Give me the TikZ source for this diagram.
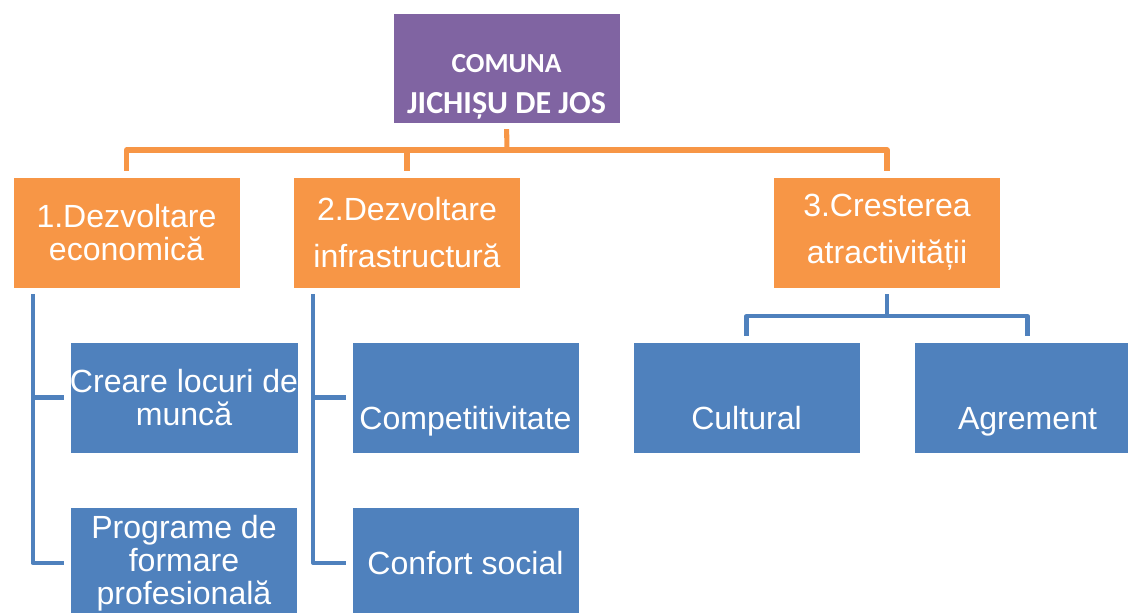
\documentclass[tikz,border=0pt]{standalone}
\usepackage{fontspec}
\setmainfont{Liberation Sans}
\newfontfamily\calibrifont{Carlito}
\usetikzlibrary{positioning,calc}
\definecolor{jdjpurple}{RGB}{128,100,162}
\definecolor{jdjorange}{RGB}{247,150,70}
\definecolor{jdjblue}{RGB}{79,129,189}

\begin{document}
\begin{tikzpicture}[x=0.025cm, y=-0.025cm,
    topbox/.style={rectangle, draw=white, fill=jdjpurple, line width=0.6pt,
                 minimum width=5.675cm, minimum height=2.75cm, inner sep=0pt},
    goalbox/.style={rectangle, draw=white, fill=jdjorange, line width=0.6pt,
                 minimum width=5.675cm, minimum height=2.775cm, inner sep=0pt,
                 text=white, align=center,
                 font=\fontsize{22.8}{23.5}\selectfont},
    actbox/.style={goalbox, fill=jdjblue},
    boxtxt/.style={text=white, align=center, inner sep=0pt,
                 text height=0.72em, text depth=0.21em,
                 font=\fontsize{22.8}{23.5}\selectfont},
    olink/.style={draw=jdjorange, line width=3.6pt, line join=round},
    blink/.style={draw=jdjblue, line width=2.9pt, line join=round},
    gap/.style={shorten >=4pt},
  ]
  \useasboundingbox (0,0) rectangle (1128,612);

  % Comuna
  \node[topbox] (comuna) at (506.5,68) {};
  \node[text=white, align=center, inner sep=0pt,
        font=\calibrifont\bfseries\fontsize{22.8}{29.2}\selectfont]
    (comunatxt) at ([yshift=-0.46cm]comuna.center)
    {{\fontsize{19.6}{20}\selectfont COMUNA}\\JICHIȘU DE JOS};

  % Directii
  \node[goalbox] (eco) at (126.5,232.5) {1.Dezvoltare\\economică};
  \node[goalbox, font=\fontsize{22.8}{33.4}\selectfont]
    (infra) at (407,232.5) {2.Dezvoltare\\infrastructură};
  \node[goalbox, font=\fontsize{22.8}{33.4}\selectfont]
    (atract) at (887,232.5) {3.Cresterea\\atractivității};

  \coordinate (obus) at (507,150);
  \draw[olink, shorten <=4pt] (comuna.south) -- (obus);
  \draw[olink, gap] (obus) -| (eco.north);
  \draw[olink, gap] (obus) -| (infra.north);
  \draw[olink, gap] (obus) -| (atract.north);

  % Actiuni
  \node[actbox] (creare) at (184,397.5) {Creare locuri de\\muncă};
  \node[actbox] (programe) at (184,563) {Programe de\\formare\\profesională};
  \node[actbox] (compet) at (465.5,397.5) {};
  \node[boxtxt] (compettxt) at ([yshift=-0.7cm]compet.center) {Competitivitate};
  \node[actbox] (confort) at (465.5,563) {Confort social};
  \node[actbox] (cultural) at (746.5,397.5) {};
  \node[boxtxt] (culturaltxt) at ([yshift=-0.7cm]cultural.center) {Cultural};
  \node[actbox] (agrement) at (1027.5,397.5) {};
  \node[boxtxt] (agrementtxt) at ([yshift=-0.7cm]agrement.center) {Agrement};

  \draw[blink, gap, shorten <=4pt] ([xshift=0.5cm]eco.south west) |- (creare.west);
  \draw[blink, gap, shorten <=4pt] ([xshift=0.5cm]eco.south west) |- (programe.west);
  \draw[blink, gap, shorten <=4pt] ([xshift=0.5cm]infra.south west) |- (compet.west);
  \draw[blink, gap, shorten <=4pt] ([xshift=0.5cm]infra.south west) |- (confort.west);

  \coordinate (bbus) at (887,316);
  \draw[blink, shorten <=4pt] (atract.south) -- (bbus);
  \draw[blink, gap] (bbus) -| (cultural.north);
  \draw[blink, gap] (bbus) -| (agrement.north);
\end{tikzpicture}
\end{document}
